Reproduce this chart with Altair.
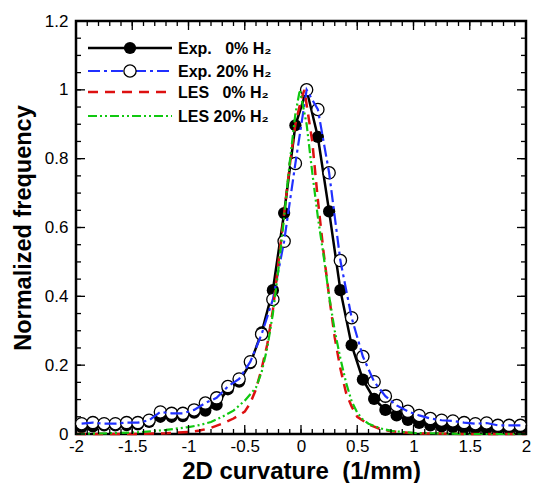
import altair as alt
import pandas as pd

# ---------------- data ----------------
bin_x = [-1.95, -1.85, -1.75, -1.65, -1.55, -1.45, -1.35, -1.25, -1.15, -1.05,
         -0.95, -0.85, -0.75, -0.65, -0.55, -0.45, -0.35, -0.25, -0.15, -0.05,
         0.05, 0.15, 0.25, 0.35, 0.45, 0.55, 0.65, 0.75, 0.85, 0.95,
         1.05, 1.15, 1.25, 1.35, 1.45, 1.55, 1.65, 1.75, 1.85, 1.95]

exp0 = [0.020, 0.022, 0.025, 0.025, 0.026, 0.028, 0.035, 0.050, 0.050, 0.052,
        0.062, 0.068, 0.085, 0.130, 0.152, 0.206, 0.295, 0.418, 0.642, 0.897,
        1.000, 0.863, 0.647, 0.418, 0.258, 0.158, 0.102, 0.070, 0.054, 0.041,
        0.032, 0.025, 0.022, 0.020, 0.018, 0.017, 0.016, 0.015, 0.015, 0.015]

exp20 = [0.030, 0.033, 0.030, 0.030, 0.033, 0.033, 0.040, 0.064, 0.060, 0.060,
         0.070, 0.090, 0.105, 0.138, 0.160, 0.210, 0.290, 0.391, 0.560, 0.786,
         1.000, 0.943, 0.759, 0.504, 0.338, 0.225, 0.152, 0.110, 0.083, 0.066,
         0.054, 0.045, 0.040, 0.038, 0.033, 0.030, 0.032, 0.025, 0.025, 0.025]

les0_x = [-2.0, -1.5, -1.2, -1.0, -0.9, -0.8, -0.7, -0.6, -0.5, -0.45, -0.4, -0.35,
          -0.3, -0.25, -0.2, -0.15, -0.1, -0.05, 0.0, 0.03, 0.1, 0.15, 0.2, 0.25,
          0.3, 0.35, 0.4, 0.45, 0.5, 0.6, 0.7, 0.8, 1.0, 1.5, 2.0]
les0_y = [0.0, 0.0, 0.002, 0.006, 0.010, 0.018, 0.030, 0.045, 0.065, 0.090, 0.130, 0.190,
          0.260, 0.360, 0.500, 0.640, 0.780, 0.900, 0.970, 1.000, 0.850, 0.680, 0.530, 0.400,
          0.280, 0.190, 0.120, 0.080, 0.050, 0.028, 0.015, 0.008, 0.002, 0.0, 0.0]

les20_x = [-2.0, -1.6, -1.4, -1.2, -1.0, -0.9, -0.8, -0.7, -0.6, -0.5, -0.4, -0.35,
           -0.3, -0.25, -0.2, -0.15, -0.1, -0.05, -0.01, 0.05, 0.1, 0.15, 0.2, 0.25,
           0.3, 0.35, 0.4, 0.45, 0.5, 0.55, 0.6, 0.7, 0.8, 1.0, 1.5, 2.0]
les20_y = [0.0, 0.003, 0.006, 0.012, 0.020, 0.026, 0.035, 0.050, 0.068, 0.097, 0.135, 0.180,
           0.250, 0.350, 0.480, 0.630, 0.790, 0.930, 1.000, 0.900, 0.760, 0.630, 0.520, 0.400,
           0.300, 0.220, 0.150, 0.095, 0.062, 0.042, 0.030, 0.017, 0.009, 0.003, 0.0, 0.0]

x_major = [-2, -1.5, -1, -0.5, 0, 0.5, 1, 1.5, 2]
x_minor = [round(-2 + 0.1 * i, 2) for i in range(41)]
y_major = [0, 0.2, 0.4, 0.6, 0.8, 1.0, 1.2]
y_minor = [round(0.05 * i, 2) for i in range(25)]

legend_labels = ["Exp.\u00a0\u00a0\u00a00% H\u2082", "Exp. 20% H\u2082",
                 "LES\u00a0\u00a0\u00a00% H\u2082", "LES 20% H\u2082"]

# ---------------- layout / style ----------------
W, H = 450, 413
FONT = "Liberation Sans"
BLUE = "#2030ff"
RED = "#dd1010"
GREEN = "#10c810"

xs = alt.Scale(domain=[-2, 2], nice=False, zero=False)
ys = alt.Scale(domain=[0, 1.2], nice=False, zero=False)

xaxis = alt.Axis(values=x_major, ticks=False, domain=False, grid=False,
                 labelFont=FONT, labelFontSize=17, labelColor="black",
                 labelPadding=4, labelExpr="toString(datum.value)",
                 title="2D curvature\u00a0\u00a0(1/mm)", titleFont=FONT,
                 titleFontSize=24, titleFontWeight="bold", titleColor="black",
                 titleBaseline="alphabetic", titleY=44, labelFlush=False)
yaxis = alt.Axis(values=y_major, ticks=False, domain=False, grid=False,
                 labelFont=FONT, labelFontSize=17, labelColor="black",
                 labelPadding=8, labelExpr="toString(datum.value)",
                 title="Normalized frequency", titleFont=FONT,
                 titleFontSize=23.5, titleFontWeight="bold", titleColor="black",
                 titlePadding=9, labelFlush=False)

X = lambda f: alt.X(f"{f}:Q", scale=xs, axis=xaxis)
Y = lambda f: alt.Y(f"{f}:Q", scale=ys, axis=yaxis)

exp_df = pd.DataFrame({"x": bin_x, "e0": exp0, "e20": exp20})
les0_df = pd.DataFrame({"x": les0_x, "y": les0_y})
les20_df = pd.DataFrame({"x": les20_x, "y": les20_y})

base_exp = alt.Chart(exp_df)

line_e0 = base_exp.mark_line(color="black", strokeWidth=2.5).encode(x=X("x"), y=Y("e0"))
pts_e0 = base_exp.mark_point(shape="circle", filled=True, color="black", size=150,
                             opacity=1).encode(x=X("x"), y=Y("e0"))
pts_e20 = base_exp.mark_point(shape="circle", filled=True, fill="white", stroke="black",
                              strokeWidth=1.3, size=150, opacity=1).encode(x=X("x"), y=Y("e20"))
line_e20 = base_exp.mark_line(color=BLUE, strokeWidth=2.2,
                              strokeDash=[12, 4, 3, 4]).encode(x=X("x"), y=Y("e20"))
line_l0 = alt.Chart(les0_df).mark_line(color=RED, strokeWidth=2.5,
                                       strokeDash=[10, 7]).encode(x=X("x"), y=Y("y"))
line_l20 = alt.Chart(les20_df).mark_line(color=GREEN, strokeWidth=2.2,
                                         strokeDash=[9, 3, 2, 3, 2, 3]).encode(x=X("x"), y=Y("y"))

# ---------------- inward ticks on all four sides ----------------
def xticks(vals, length):
    d = alt.Chart(pd.DataFrame({"x": vals}))
    bottom = d.mark_rule(color="black", strokeWidth=1.3).encode(
        x=X("x"), y=alt.value(H), y2=alt.value(H - length))
    top = d.mark_rule(color="black", strokeWidth=1.3).encode(
        x=X("x"), y=alt.value(0), y2=alt.value(length))
    return [bottom, top]

def yticks(vals, length):
    d = alt.Chart(pd.DataFrame({"y": vals}))
    left = d.mark_rule(color="black", strokeWidth=1.3).encode(
        y=Y("y"), x=alt.value(0), x2=alt.value(length))
    right = d.mark_rule(color="black", strokeWidth=1.3).encode(
        y=Y("y"), x=alt.value(W), x2=alt.value(W - length))
    return [left, right]

ticks = xticks(x_major, 9) + xticks(x_minor, 5) + yticks(y_major, 9) + yticks(y_minor, 5)

# ---------------- legend (top-left, inside) ----------------
rows = [27, 50, 71, 95]
lx0, lx1, lmark, ltext = 12, 96, 54, 102
leg = []
styles = [dict(color="black", strokeWidth=2.5),
          dict(color=BLUE, strokeWidth=2.2, strokeDash=[12, 4, 3, 4]),
          dict(color=RED, strokeWidth=2.5, strokeDash=[10, 7]),
          dict(color=GREEN, strokeWidth=2.2, strokeDash=[9, 3, 2, 3, 2, 3])]
one = alt.Chart(pd.DataFrame({"k": [0]}))
for r, st, lab in zip(rows, styles, legend_labels):
    leg.append(one.mark_rule(**st).encode(x=alt.value(lx0), x2=alt.value(lx1), y=alt.value(r)))
    leg.append(one.mark_text(align="left", baseline="middle", font=FONT, fontSize=16,
                             fontWeight="bold", color="black", text=lab).encode(
        x=alt.value(ltext), y=alt.value(r + 1)))
leg.append(one.mark_point(shape="circle", filled=True, color="black", size=150, opacity=1).encode(
    x=alt.value(lmark), y=alt.value(rows[0])))
leg.append(one.mark_point(shape="circle", filled=True, fill="white", stroke="black",
                          strokeWidth=1.3, size=150, opacity=1).encode(
    x=alt.value(lmark), y=alt.value(rows[1])))

chart = alt.layer(line_e0, pts_e0, pts_e20, line_e20, line_l0, line_l20,
                  *ticks, *leg).properties(
    width=W, height=H,
    autosize=alt.AutoSizeParams(type="none"),
    padding={"left": 68, "top": 13, "right": 5, "bottom": 49},
    background="white",
).configure_view(stroke="black", strokeWidth=2.5)

chart.save("out.html", embed_options={"renderer": "svg", "actions": False})
